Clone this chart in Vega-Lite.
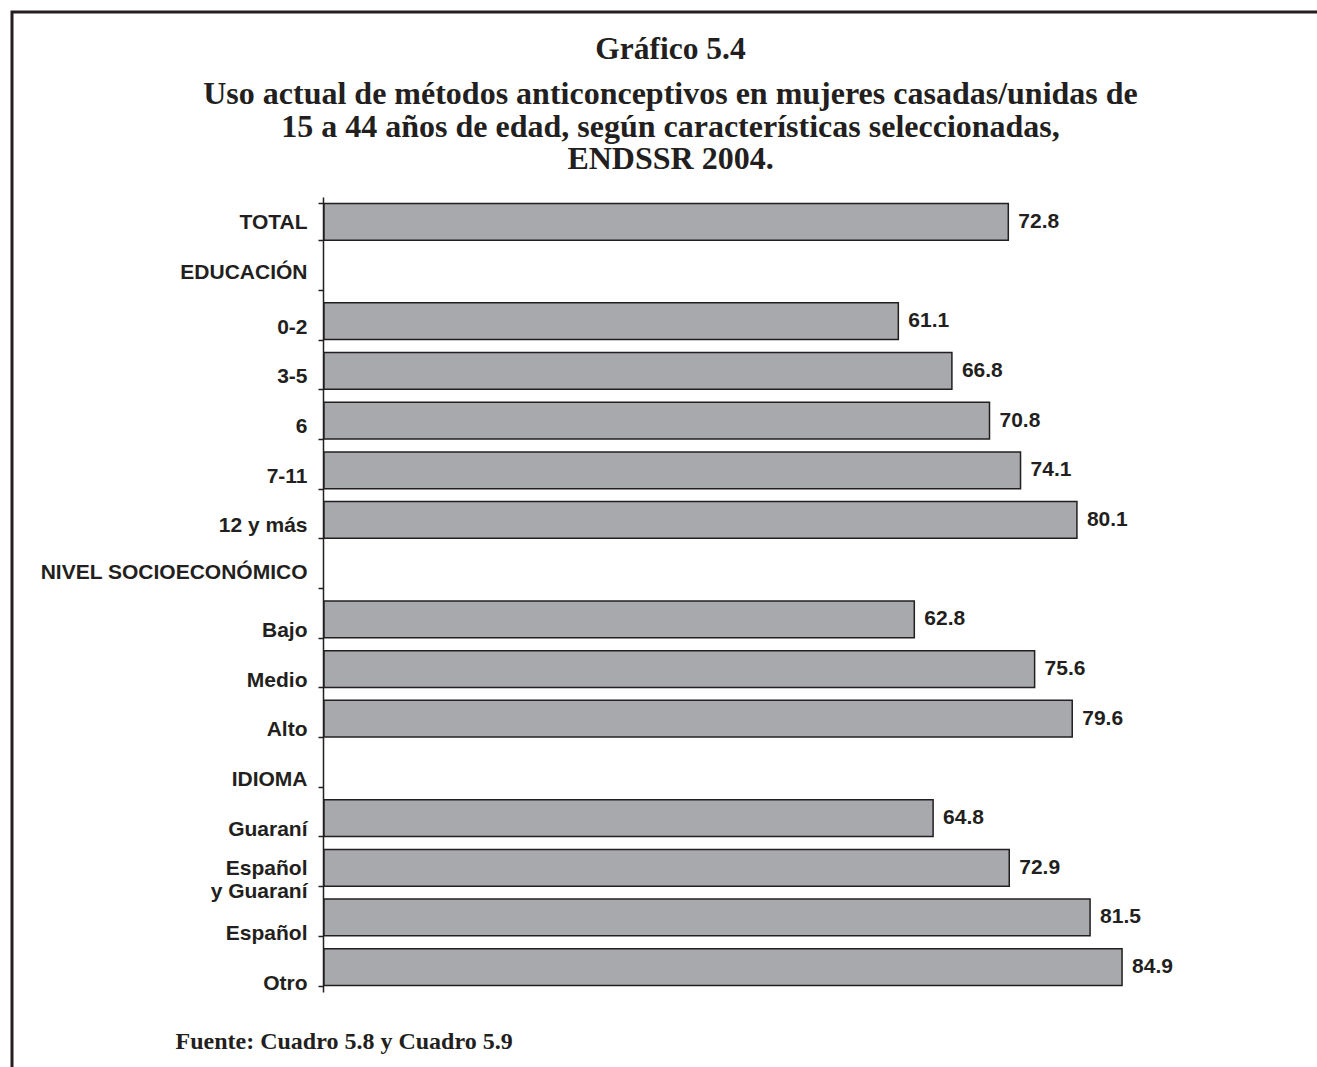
{
  "$schema": "https://vega.github.io/schema/vega-lite/v6.json",
  "width": 1305,
  "height": 1055,
  "autosize": {"type": "none"},
  "padding": {"left": 12, "top": 12, "right": 0, "bottom": 0},
  "background": "white",
  "view": {"stroke": "#231f20", "strokeWidth": 3, "strokeDash": [1305, 2360, 1070]},
  "title": {
    "text": "Gráfico 5.4",
    "subtitle": ["Uso actual de métodos anticonceptivos en mujeres casadas/unidas de", "15 a 44 años de edad, según características seleccionadas,", "ENDSSR 2004."],
    "orient": "top",
    "anchor": "middle",
    "frame": "group",
    "offset": -174,
    "dx": 6,
    "font": "Liberation Serif",
    "fontSize": 31.5,
    "fontWeight": "bold",
    "color": "#231f20",
    "subtitleFont": "Liberation Serif",
    "subtitleFontSize": 32,
    "subtitleFontWeight": "bold",
    "subtitleColor": "#231f20",
    "subtitleLineHeight": 32.5,
    "subtitlePadding": 14
  },
  "data": {
    "values": [
      {"categoria": "TOTAL", "valor": 72.8},
      {"categoria": "EDUCACIÓN", "valor": null},
      {"categoria": "0-2", "valor": 61.1},
      {"categoria": "3-5", "valor": 66.8},
      {"categoria": "6", "valor": 70.8},
      {"categoria": "7-11", "valor": 74.1},
      {"categoria": "12 y más", "valor": 80.1},
      {"categoria": "NIVEL SOCIOECONÓMICO", "valor": null},
      {"categoria": "Bajo", "valor": 62.8},
      {"categoria": "Medio", "valor": 75.6},
      {"categoria": "Alto", "valor": 79.6},
      {"categoria": "IDIOMA", "valor": null},
      {"categoria": "Guaraní", "valor": 64.8},
      {"categoria": "Español y Guaraní", "valor": 72.9},
      {"categoria": "Español", "valor": 81.5},
      {"categoria": "Otro", "valor": 84.9}
    ]
  },
  "encoding": {
    "y": {
      "field": "categoria",
      "type": "nominal",
      "sort": null,
      "scale": {
        "domain": ["TOTAL", "EDUCACIÓN", "0-2", "3-5", "6", "7-11", "12 y más", "NIVEL SOCIOECONÓMICO", "Bajo", "Medio", "Alto", "IDIOMA", "Guaraní", "Español y Guaraní", "Español", "Otro"],
        "range": [185, 980],
        "paddingInner": 0.26,
        "paddingOuter": 0.13
      },
      "axis": {
        "title": null,
        "orient": "left",
        "offset": -311,
        "grid": false,
        "domainColor": "#231f20",
        "domainWidth": 1.5,
        "ticks": true,
        "tickBand": "extent",
        "tickColor": "#231f20",
        "tickWidth": 1.5,
        "tickSize": 5,
        "labelFont": "Liberation Sans",
        "labelFontSize": 21,
        "labelFontWeight": "bold",
        "labelColor": "#231f20",
        "labelPadding": 11,
        "labelLimit": 400,
        "labelExpr": "datum.value == 'Español y Guaraní' ? ['Español', 'y Guaraní'] : datum.label",
        "labelOffset": {
          "condition": [
            {"test": "indexof(['Español', 'Otro'], datum.value) >= 0", "value": 16},
            {"test": "indexof(['Bajo', 'Medio', 'Alto', 'IDIOMA', 'Guaraní'], datum.value) >= 0", "value": 11},
            {"test": "indexof(['0-2', '3-5', '6', '7-11', '12 y más'], datum.value) >= 0", "value": 6},
            {"test": "datum.value == 'NIVEL SOCIOECONÓMICO'", "value": 3}
          ],
          "value": 1
        }
      }
    }
  },
  "layer": [
    {
      "mark": {"type": "bar", "fill": "#a7a9ac", "stroke": "#231f20", "strokeWidth": 1.5},
      "encoding": {
        "x": {
          "field": "valor",
          "type": "quantitative",
          "scale": {"domain": [-33.19, 105.64], "nice": false, "zero": false},
          "axis": {
            "orient": "bottom",
            "domain": false,
            "ticks": false,
            "labels": false,
            "grid": false,
            "title": "Fuente: Cuadro 5.8 y Cuadro 5.9",
            "titleFont": "Liberation Serif",
            "titleFontSize": 24,
            "titleFontWeight": "bold",
            "titleColor": "#231f20",
            "titleAnchor": "start",
            "titleAlign": "left",
            "titleBaseline": "alphabetic",
            "titleX": 163,
            "titleY": -19
          }
        },
        "x2": {"datum": 0}
      }
    },
    {
      "mark": {"type": "text", "align": "left", "baseline": "middle", "dx": 10, "font": "Liberation Sans", "fontSize": 21, "fontWeight": "bold", "color": "#231f20"},
      "encoding": {
        "x": {"field": "valor", "type": "quantitative"},
        "text": {"field": "valor", "type": "quantitative", "format": ".1f"}
      }
    }
  ]
}
